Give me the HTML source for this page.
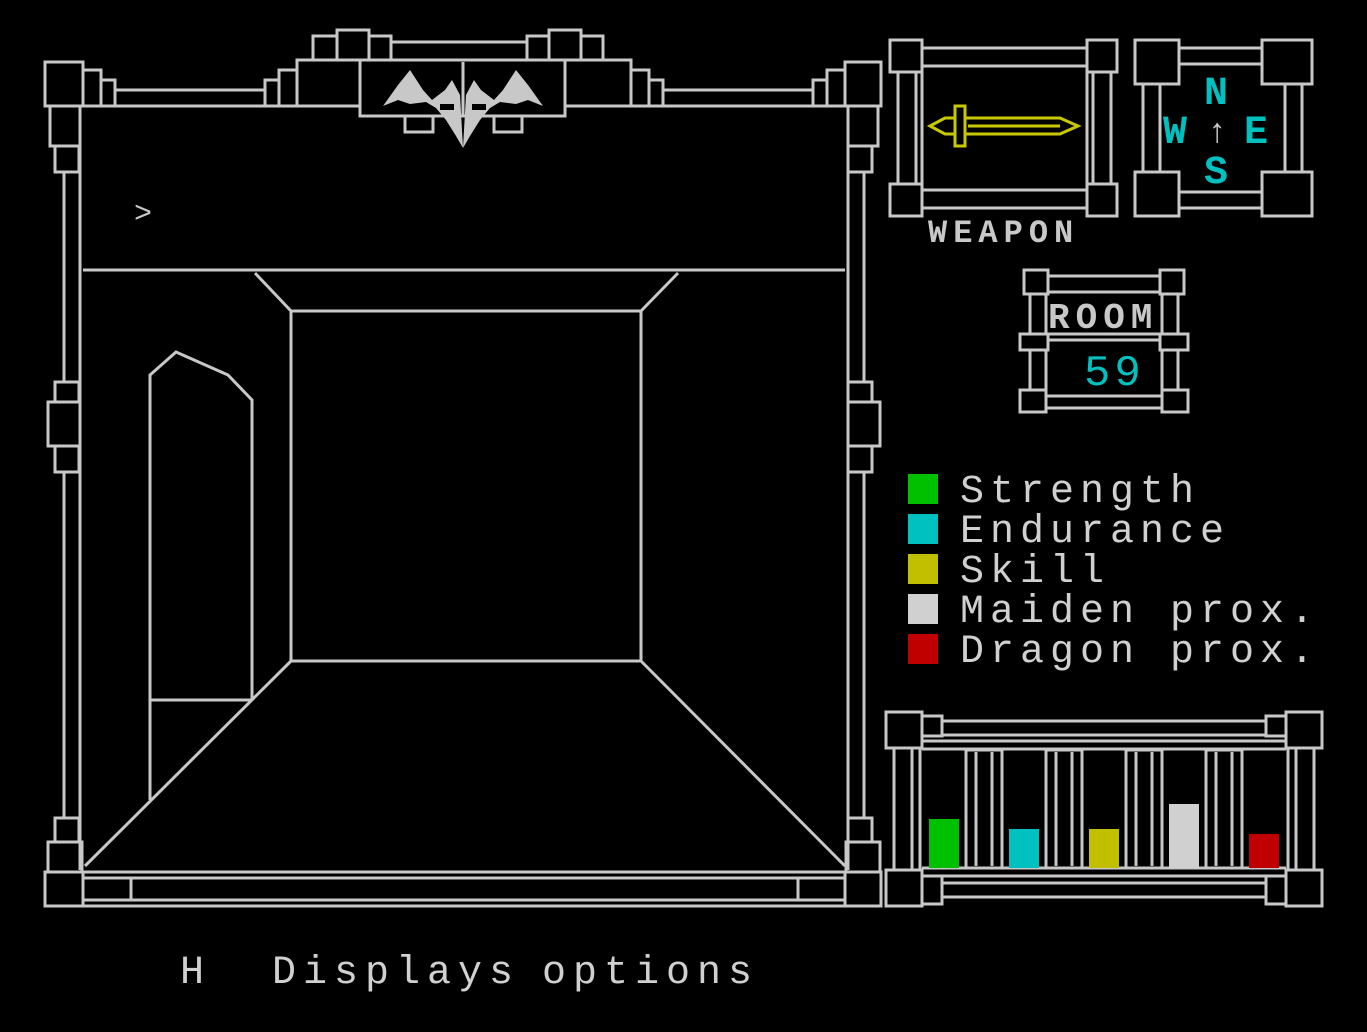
<!DOCTYPE html>
<html><head><meta charset="utf-8"><style>
html,body{margin:0;padding:0;background:#000;}
body{width:1367px;height:1032px;overflow:hidden;position:relative;}
svg{position:absolute;left:0;top:0;}
text{font-family:"Liberation Mono",monospace;}
</style></head><body>
<svg width="1367" height="1032" viewBox="0 0 1367 1032">
<rect x="0" y="0" width="1367" height="1032" fill="#000"/>
<g fill="none" stroke="#c8c8c8" stroke-width="3">
<rect x="45" y="62" width="38" height="44"/>
<rect x="50" y="106" width="30" height="40"/>
<rect x="55" y="146" width="24" height="26"/>
<line x1="64" y1="172" x2="64" y2="382"/><line x1="80" y1="106" x2="80" y2="870"/>
<rect x="55" y="382" width="24" height="20"/>
<rect x="48" y="402" width="32" height="44"/>
<rect x="55" y="446" width="24" height="26"/>
<line x1="64" y1="472" x2="64" y2="818"/>
<rect x="55" y="818" width="24" height="24"/>
<rect x="48" y="842" width="34" height="30"/>
<rect x="45" y="872" width="38" height="34"/>
<rect x="845" y="62" width="36" height="44"/>
<rect x="848" y="106" width="30" height="40"/>
<rect x="848" y="146" width="24" height="26"/>
<line x1="848" y1="106" x2="848" y2="870"/><line x1="864" y1="172" x2="864" y2="382"/>
<rect x="848" y="382" width="24" height="20"/>
<rect x="848" y="402" width="32" height="44"/>
<rect x="848" y="446" width="24" height="26"/>
<line x1="864" y1="472" x2="864" y2="818"/>
<rect x="848" y="818" width="24" height="24"/>
<rect x="846" y="842" width="34" height="30"/>
<rect x="845" y="872" width="36" height="34"/>
<rect x="83" y="70" width="18" height="36"/><rect x="101" y="80" width="14" height="26"/>
<line x1="115" y1="90" x2="265" y2="90"/><line x1="83" y1="106" x2="845" y2="106"/>
<rect x="265" y="80" width="14" height="26"/><rect x="279" y="70" width="18" height="36"/>
<rect x="297" y="60" width="66" height="46"/>
<rect x="313" y="36" width="24" height="24"/><rect x="337" y="30" width="32" height="30"/><rect x="369" y="36" width="22" height="24"/>
<line x1="391" y1="42" x2="527" y2="42"/><line x1="391" y1="60" x2="600" y2="60"/>
<rect x="527" y="36" width="22" height="24"/><rect x="549" y="30" width="32" height="30"/><rect x="581" y="36" width="22" height="24"/>
<rect x="565" y="60" width="66" height="46"/>
<rect x="631" y="70" width="18" height="36"/><rect x="649" y="80" width="14" height="26"/>
<line x1="663" y1="90" x2="813" y2="90"/>
<rect x="813" y="80" width="14" height="26"/><rect x="827" y="70" width="18" height="36"/>
<rect x="360" y="60" width="205" height="56" fill="#000"/>
<line x1="463" y1="62" x2="463" y2="116"/>
<rect x="405" y="116" width="28" height="16"/><rect x="494" y="116" width="28" height="16"/>
<line x1="83" y1="270" x2="845" y2="270"/>
<rect x="291" y="311" width="350" height="350"/>
<line x1="255" y1="273" x2="291" y2="311"/><line x1="678" y1="273" x2="641" y2="311"/>
<line x1="291" y1="661" x2="85" y2="866"/><line x1="641" y1="661" x2="845" y2="866"/>
<polyline points="150,800 150,375 176,352 228,375 252,400 252,700"/>
<line x1="150" y1="700" x2="252" y2="700"/>
<line x1="83" y1="872" x2="845" y2="872"/>
<rect x="83" y="878" width="48" height="22"/><line x1="131" y1="878" x2="798" y2="878"/><line x1="131" y1="900" x2="798" y2="900"/>
<rect x="798" y="878" width="47" height="22"/>
<line x1="83" y1="906" x2="845" y2="906"/>
<rect x="890" y="40" width="32" height="32"/><rect x="1087" y="40" width="30" height="32"/>
<rect x="890" y="184" width="32" height="32"/><rect x="1087" y="184" width="30" height="32"/>
<line x1="922" y1="48" x2="1087" y2="48"/><line x1="922" y1="66" x2="1087" y2="66"/>
<line x1="922" y1="190" x2="1087" y2="190"/><line x1="922" y1="208" x2="1087" y2="208"/>
<line x1="898" y1="72" x2="898" y2="184"/><line x1="916" y1="72" x2="916" y2="184"/>
<line x1="1093" y1="72" x2="1093" y2="184"/><line x1="1111" y1="72" x2="1111" y2="184"/>
<rect x="922" y="66" width="165" height="124"/>
<rect x="1135" y="40" width="44" height="44"/><rect x="1262" y="40" width="50" height="44"/>
<rect x="1135" y="172" width="44" height="44"/><rect x="1262" y="172" width="50" height="44"/>
<line x1="1179" y1="48" x2="1262" y2="48"/><line x1="1179" y1="64" x2="1262" y2="64"/>
<line x1="1179" y1="192" x2="1262" y2="192"/><line x1="1179" y1="208" x2="1262" y2="208"/>
<line x1="1143" y1="84" x2="1143" y2="172"/><line x1="1160" y1="84" x2="1160" y2="172"/>
<line x1="1285" y1="84" x2="1285" y2="172"/><line x1="1302" y1="84" x2="1302" y2="172"/>
<rect x="1024" y="270" width="24" height="24"/><rect x="1160" y="270" width="24" height="24"/>
<line x1="1048" y1="276" x2="1160" y2="276"/><line x1="1048" y1="292" x2="1160" y2="292"/>
<rect x="1030" y="294" width="16" height="40"/><rect x="1162" y="294" width="16" height="40"/>
<line x1="1046" y1="334" x2="1162" y2="334"/>
<rect x="1020" y="334" width="28" height="16"/><rect x="1160" y="334" width="28" height="16"/>
<line x1="1048" y1="340" x2="1160" y2="340"/>
<rect x="1030" y="350" width="16" height="40"/><rect x="1162" y="350" width="16" height="40"/>
<rect x="1020" y="390" width="26" height="22"/><rect x="1162" y="390" width="26" height="22"/>
<line x1="1046" y1="396" x2="1162" y2="396"/><line x1="1046" y1="408" x2="1162" y2="408"/>
<rect x="886" y="712" width="36" height="36"/><rect x="1286" y="712" width="36" height="36"/>
<rect x="922" y="716" width="20" height="20"/><rect x="1266" y="716" width="20" height="20"/>
<line x1="942" y1="721" x2="1266" y2="721"/><line x1="942" y1="735" x2="1266" y2="735"/>
<line x1="922" y1="741" x2="1286" y2="741"/><line x1="922" y1="749" x2="1286" y2="749"/>
<rect x="886" y="870" width="36" height="36"/><rect x="1286" y="870" width="36" height="36"/>
<rect x="922" y="876" width="20" height="28"/><rect x="1266" y="876" width="20" height="28"/>
<line x1="942" y1="883" x2="1266" y2="883"/><line x1="942" y1="897" x2="1266" y2="897"/>
<line x1="922" y1="868" x2="1286" y2="868"/><line x1="922" y1="876" x2="1286" y2="876"/>
<line x1="894" y1="748" x2="894" y2="870"/><line x1="912" y1="748" x2="912" y2="870"/>
<line x1="920" y1="748" x2="920" y2="870"/>
<line x1="1296" y1="748" x2="1296" y2="870"/><line x1="1314" y1="748" x2="1314" y2="870"/>
<line x1="1288" y1="748" x2="1288" y2="870"/>
<rect x="966" y="750" width="36" height="118"/><line x1="976" y1="752" x2="976" y2="866"/><line x1="992" y1="752" x2="992" y2="866"/>
<rect x="1046" y="750" width="36" height="118"/><line x1="1056" y1="752" x2="1056" y2="866"/><line x1="1072" y1="752" x2="1072" y2="866"/>
<rect x="1126" y="750" width="36" height="118"/><line x1="1136" y1="752" x2="1136" y2="866"/><line x1="1152" y1="752" x2="1152" y2="866"/>
<rect x="1206" y="750" width="36" height="118"/><line x1="1216" y1="752" x2="1216" y2="866"/><line x1="1232" y1="752" x2="1232" y2="866"/>
</g>
<g fill="#c8c8c8">
<polygon points="383,106 398,85 410,70 423,90 432,100 445,90 452,80 460,95 463,148 466,95 474,80 481,90 494,100 503,90 516,70 528,85 543,106 528,100 516,104 500,102 490,108 480,120 470,136 463,148 456,136 446,120 436,108 426,102 410,104 398,100"/>
</g>
<g fill="#000"><rect x="440" y="104" width="14" height="6"/><rect x="472" y="104" width="14" height="6"/></g>
<g fill="none" stroke="#c8c800" stroke-width="3">
<polygon points="965,118 1060,118 1078,126 1060,134 965,134"/>
<line x1="968" y1="126" x2="1060" y2="126"/>
<rect x="955" y="106" width="10" height="40"/>
<polygon points="930,126 945,118 955,118 955,134 945,134"/>
</g>
<rect x="929" y="819" width="30" height="49" fill="#00c000"/>
<rect x="1009" y="829" width="30" height="39" fill="#00c0c0"/>
<rect x="1089" y="829" width="30" height="39" fill="#c0c000"/>
<rect x="1169" y="804" width="30" height="64" fill="#d0d0d0"/>
<rect x="1249" y="834" width="30" height="34" fill="#c00000"/>
<rect x="908" y="474" width="30" height="30" fill="#00c000"/>
<rect x="908" y="514" width="30" height="30" fill="#00c0c0"/>
<rect x="908" y="554" width="30" height="30" fill="#c0c000"/>
<rect x="908" y="594" width="30" height="30" fill="#d0d0d0"/>
<rect x="908" y="634" width="30" height="30" fill="#c00000"/>
<g font-size="40" fill="#d0d0d0" letter-spacing="6">
<text x="960" y="502">Strength</text>
<text x="960" y="542">Endurance</text>
<text x="960" y="582">Skill</text>
<text x="960" y="622">Maiden prox.</text>
<text x="960" y="662">Dragon prox.</text>
</g>
<g font-size="40" fill="#d0d0d0" letter-spacing="7">
<text x="180" y="983">H</text>
<text x="272" y="983">Displays</text>
<text x="542" y="983">options</text>
</g>
<text x="134" y="222" font-size="30" fill="#c8c8c8">&gt;</text>
<text x="928" y="242" font-size="32" font-weight="bold" fill="#c8c8c8" letter-spacing="6">WEAPON</text>
<text x="1048" y="328" font-size="36" font-weight="bold" fill="#c8c8c8" letter-spacing="6">ROOM</text>
<text x="1084" y="385" font-size="44" fill="#00c0c0" letter-spacing="4">59</text>
<g font-size="40" fill="#00c0c0" font-weight="bold">
<text x="1204" y="104">N</text><text x="1163" y="143">W</text><text x="1244" y="143">E</text><text x="1204" y="183">S</text>
</g>
<text x="1207" y="142" font-size="34" fill="#c8c8c8">↑</text>
</svg>
</body></html>
